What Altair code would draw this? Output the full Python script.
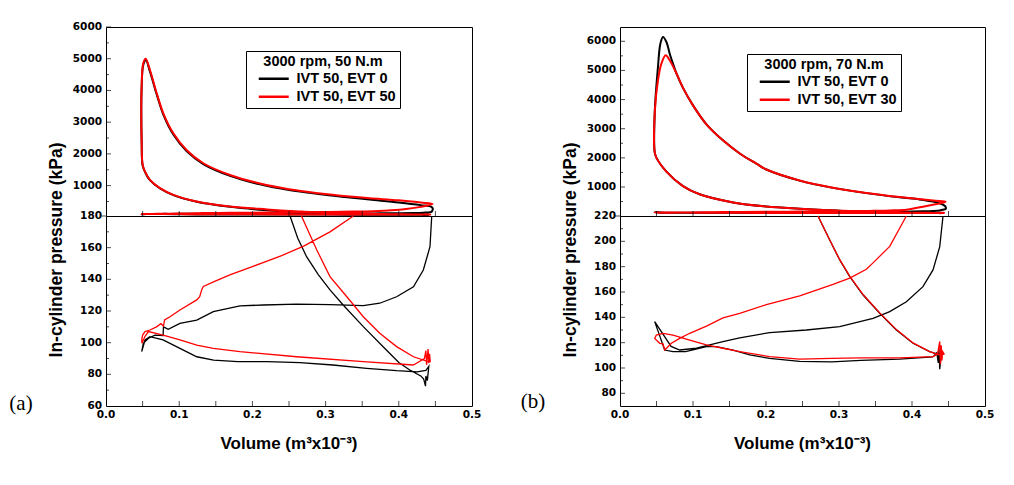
import altair as alt
import pandas as pd

# ---------------- text ----------------
A_SERIES = ["IVT 50, EVT 0", "IVT 50, EVT 50"]
B_SERIES = ["IVT 50, EVT 0", "IVT 50, EVT 30"]
SERIES_COLORS = ["#000000", "#ff0000"]
A_LEGEND_TITLE = "3000 rpm, 50 N.m"
B_LEGEND_TITLE = "3000 rpm, 70 N.m"
X_TITLE = "Volume (m³x10⁻³)"
Y_TITLE = "In-cylinder pressure (kPa)"

# ---------------- axes ----------------
X_LABELS = [0.0, 0.1, 0.2, 0.3, 0.4, 0.5]
X_TICKS = [0.05, 0.1, 0.15, 0.2, 0.25, 0.3, 0.35, 0.4, 0.45]

A_UP_DOMAIN = [42, 6000]
A_LO_DOMAIN = [60, 180]
A_UP_MAJOR = [1000, 2000, 3000, 4000, 5000, 6000]
A_UP_MINOR = [500, 1500, 2500, 3500, 4500, 5500]
A_LO_LABELS = [60, 80, 100, 120, 140, 160, 180]
A_LO_MAJOR = [80, 100, 120, 140, 160]
A_LO_MINOR = [70, 90, 110, 130, 150, 170]

B_UP_DOMAIN = [5, 6490]
B_LO_DOMAIN = [70, 220]
B_UP_MAJOR = [1000, 2000, 3000, 4000, 5000, 6000]
B_UP_MINOR = [500, 1500, 2500, 3500, 4500, 5500]
B_LO_LABELS = [80, 100, 120, 140, 160, 180, 200, 220]
B_LO_MAJOR = [80, 100, 120, 140, 160, 180, 200]
B_LO_MINOR = [90, 110, 130, 150, 170, 190, 210]

# ---------------- data (Volume m3x10^-3, pressure kPa), in cycle order ----------------
A_BLACK = [
    (0.425, 81.6), (0.437, 82.5), (0.441, 85.0), (0.439, 76.0), (0.437, 79.0), (0.4365, 72.5),
    (0.434, 77.0), (0.430, 79.0), (0.415, 82.7), (0.400, 87.5), (0.383, 95.4), (0.3515, 110.1),
    (0.324, 123.8), (0.306, 133.3), (0.290, 143.0), (0.274, 154.3), (0.262, 166.0), (0.2514, 180.0),
    (0.230, 206), (0.210, 240), (0.1694, 330), (0.1239, 490), (0.092, 700), (0.0738, 910),
    (0.060, 1170), (0.0533, 1430), (0.0500, 1640), (0.0487, 2400), (0.0482, 3300), (0.0486, 4000),
    (0.0509, 4800), (0.0545, 4950), (0.0600, 4600), (0.0693, 3870), (0.0783, 3240), (0.092, 2610),
    (0.110, 2090), (0.1329, 1680), (0.1694, 1310), (0.2104, 1040), (0.250, 860), (0.290, 735),
    (0.333, 625), (0.360, 560), (0.400, 470), (0.430, 385), (0.4445, 330), (0.4465, 270),
    (0.4460, 225), (0.4455, 200), (0.4450, 180.0), (0.4426, 160.6), (0.4335, 145.9), (0.420, 135.3),
    (0.397, 129.0), (0.374, 124.9), (0.3515, 123.4), (0.306, 124.0), (0.2605, 124.4), (0.215, 123.8),
    (0.183, 123.3), (0.1466, 119.6), (0.124, 114.3), (0.101, 112.2), (0.085, 108.5), (0.0785, 110.0),
    (0.078, 104.5), (0.067, 104.8), (0.058, 102.8), (0.051, 99.6), (0.0488, 94.3),
    (0.0533, 101.7), (0.060, 103.8), (0.078, 101.7), (0.101, 96.4), (0.124, 91.1), (0.147, 89.0),
    (0.180, 88.0), (0.220, 88.0), (0.265, 87.4), (0.310, 85.9), (0.356, 83.8), (0.397, 82.3), (0.425, 81.6),
]
A_RED = [
    (0.420, 85.9), (0.435, 90), (0.437, 95), (0.438, 86), (0.440, 96), (0.441, 87), (0.442, 93),
    (0.443, 88), (0.440, 88), (0.420, 91.1), (0.397, 97.5), (0.374, 105.9), (0.3515, 116.4),
    (0.329, 129.0), (0.306, 141.7), (0.288, 158.5), (0.267, 180.0), (0.245, 210), (0.220, 250),
    (0.1694, 345), (0.1239, 500), (0.092, 710), (0.0738, 920), (0.060, 1180), (0.0533, 1440),
    (0.0500, 1660), (0.0487, 2420), (0.0482, 3300), (0.0486, 4050), (0.0509, 4860), (0.0542, 5000),
    (0.0600, 4645), (0.0693, 3910), (0.0783, 3280), (0.092, 2650), (0.110, 2123), (0.1329, 1705),
    (0.1694, 1335), (0.2104, 1065), (0.250, 885), (0.290, 760), (0.333, 655), (0.3607, 600),
    (0.400, 535), (0.430, 465), (0.446, 420), (0.430, 330), (0.410, 262), (0.390, 222), (0.365, 195),
    (0.338, 180.0), (0.306, 170), (0.270, 161), (0.240, 155), (0.200, 148), (0.170, 143), (0.150, 139),
    (0.133, 135.5), (0.1307, 133.3), (0.128, 129), (0.124, 127), (0.101, 120.6), (0.0874, 116.4),
    (0.080, 114.3), (0.0785, 110.5), (0.075, 112), (0.069, 110), (0.060, 108), (0.0533, 107),
    (0.050, 104.8), (0.0488, 101.7), (0.0492, 99.6), (0.0533, 104), (0.058, 107), (0.078, 104.8),
    (0.101, 101.7), (0.124, 98.5), (0.1466, 96.4), (0.183, 94.3), (0.2605, 91.1), (0.3515, 88.0), (0.420, 85.9),
]
B_BLACK = [
    (0.4288, 108.8), (0.434, 112), (0.436, 104), (0.437, 115), (0.438, 99), (0.440, 110), (0.438, 110.3),
    (0.4242, 112.9), (0.4014, 119.5), (0.3786, 130.0), (0.3558, 143.2), (0.333, 157.6), (0.3147, 172.1),
    (0.301, 185.3), (0.2873, 201), (0.2712, 220.0), (0.246, 255), (0.2005, 330), (0.155, 470),
    (0.109, 750), (0.0863, 1030), (0.0636, 1530), (0.050, 2000), (0.0475, 2200), (0.0477, 3630),
    (0.052, 5118), (0.0553, 5918), (0.0589, 6148), (0.0636, 5976), (0.0681, 5575), (0.0726, 5232),
    (0.0773, 4900), (0.0863, 4400), (0.100, 3800), (0.1184, 3150), (0.141, 2600), (0.164, 2150),
    (0.1868, 1800), (0.2005, 1600), (0.246, 1220), (0.2918, 970), (0.3375, 790), (0.383, 645),
    (0.410, 575), (0.4288, 500), (0.440, 420), (0.4455, 340), (0.4465, 280), (0.446, 245), (0.4425, 220.0),
    (0.438, 195.8), (0.4288, 177.4), (0.415, 164.2), (0.3923, 152.3), (0.3695, 144.5), (0.3466, 139.2),
    (0.301, 132.6), (0.2553, 130.0), (0.205, 128.0), (0.164, 123.8), (0.141, 120.8), (0.1229, 118.2),
    (0.1046, 115.6), (0.0818, 114.2), (0.070, 117.0), (0.0475, 136.6), (0.0612, 114.2), (0.0726, 112.9),
    (0.090, 113.0), (0.1184, 116.8), (0.132, 116.8), (0.155, 114.2), (0.1777, 110.3), (0.205, 107.6),
    (0.246, 105.3), (0.290, 104.8), (0.330, 106.0), (0.383, 107.0), (0.4288, 108.8),
]
B_RED = [
    (0.4288, 109.0), (0.435, 111), (0.438, 121), (0.439, 103), (0.440, 118), (0.441, 106), (0.442, 113),
    (0.444, 111), (0.440, 110), (0.4242, 113.0), (0.4014, 119.8), (0.3786, 130.3), (0.3558, 143.5),
    (0.333, 158.0), (0.3147, 172.5), (0.301, 185.5), (0.2873, 201), (0.2712, 220.0), (0.246, 255),
    (0.2005, 330), (0.155, 470), (0.109, 750), (0.0863, 1030), (0.0636, 1530), (0.050, 2000),
    (0.0475, 2200), (0.0478, 3630), (0.052, 4662), (0.0567, 5232), (0.0626, 5520), (0.0681, 5348),
    (0.0773, 4900), (0.0863, 4400), (0.100, 3800), (0.1184, 3150), (0.141, 2600), (0.164, 2150),
    (0.1868, 1800), (0.2005, 1600), (0.246, 1225), (0.2918, 975), (0.3375, 795), (0.383, 655),
    (0.4288, 535), (0.446, 496), (0.430, 400), (0.415, 320), (0.400, 255), (0.3923, 220.0),
    (0.3695, 196), (0.3466, 183), (0.3375, 178), (0.3147, 171), (0.2918, 166), (0.2462, 157),
    (0.2005, 150), (0.164, 143.2), (0.141, 139.5), (0.1184, 133), (0.0955, 127.4), (0.0818, 123.4),
    (0.0704, 119.5), (0.0612, 114.2), (0.0589, 119), (0.0544, 119.5), (0.0475, 123.4), (0.0498, 126),
    (0.0589, 127.4), (0.0726, 126), (0.0955, 122.1), (0.1184, 118.2), (0.141, 115.6), (0.164, 112.9),
    (0.205, 109), (0.246, 107), (0.290, 107.6), (0.330, 108), (0.383, 108), (0.4288, 109.0),
]

# ---------------- styling ----------------
TICK_FONT = "DejaVu Sans"
TITLE_FONT = "Liberation Sans"
UP_H, LO_H = 189, 379
W, H = 879, 379
LEGEND_LINE = "M-3,0H3"


def make_df(black, red, names, lim):
    rows = []
    for name, pts in ((names[0], black), (names[1], red)):
        for i, (v, p) in enumerate(pts):
            rows.append({"series": name, "i": i, "V": v, "P": p,
                         "PL": p if p <= lim + 1e-9 else None})
    return pd.DataFrame(rows)


def panel(df, names, xr, up_dom, lo_dom, up_major, up_minor, lo_labels, lo_major, lo_minor,
          legend_title, lx, ly):
    xs = alt.Scale(domain=[0, 0.5], range=xr, nice=False, zero=False)
    ysu = alt.Scale(domain=up_dom, range=[UP_H, 0], nice=False, zero=False)
    ysl = alt.Scale(domain=lo_dom, range=[LO_H, UP_H], nice=False, zero=False)
    cs = alt.Scale(domain=names, range=SERIES_COLORS)
    x0 = alt.XDatum(0.0, scale=xs, axis=None)

    def frame(dom, ys):
        return alt.Chart(pd.DataFrame({"x0": [0.0], "x1": [0.5], "y0": [dom[0]], "y1": [dom[1]]})).mark_rect(
            fillOpacity=0, stroke="black", strokeWidth=1,
            xOffset=0.5, x2Offset=0.5, yOffset=0.5, y2Offset=0.5
        ).encode(x=alt.X("x0:Q", scale=xs, axis=None), x2="x1",
                 y=alt.Y("y0:Q", scale=ys, axis=None), y2="y1")

    def yticks(vals, ys, size):
        return alt.Chart(pd.DataFrame({"v": vals})).mark_tick(
            orient="horizontal", size=size, thickness=1, color="black", xOffset=size / 2
        ).encode(x=x0, y=alt.Y("v:Q", scale=ys, axis=None))

    def xticks(yval, ys):
        return alt.Chart(pd.DataFrame({"v": X_TICKS})).mark_tick(
            orient="vertical", size=5, thickness=1, color="black", yOffset=-2.5
        ).encode(x=alt.X("v:Q", scale=xs, axis=None), y=alt.YDatum(yval, scale=ys, axis=None))

    def ylabels(vals, ys):
        return alt.Chart(pd.DataFrame({"v": vals})).mark_text(
            align="right", baseline="middle", xOffset=-4, font=TICK_FONT, fontSize=10.5,
            fontWeight="bold", color="black"
        ).encode(x=x0, y=alt.Y("v:Q", scale=ys, axis=None), text=alt.Text("v:Q", format="d"))

    xlabels = alt.Chart(pd.DataFrame({"v": X_LABELS})).mark_text(
        align="center", baseline="top", yOffset=4, font=TICK_FONT, fontSize=10.5,
        fontWeight="bold", color="black"
    ).encode(x=alt.X("v:Q", scale=xs, axis=None), y=alt.YDatum(lo_dom[0], scale=ysl, axis=None),
             text=alt.Text("v:Q", format=".1f"))

    xtitle = alt.Chart(pd.DataFrame({"t": [X_TITLE]})).mark_text(
        align="center", baseline="alphabetic", font=TITLE_FONT, fontSize=17, fontWeight="bold",
        color="black"
    ).encode(x=alt.XDatum(0.25, scale=xs, axis=None), y=alt.value(422), text="t:N")

    ytitle = alt.Chart(pd.DataFrame({"t": [Y_TITLE]})).mark_text(
        align="center", baseline="middle", angle=270, xOffset=-49, font=TITLE_FONT, fontSize=17.5,
        fontWeight="bold", color="black"
    ).encode(x=x0, y=alt.value(223), text="t:N")

    up_lines = alt.Chart(df).mark_line(strokeWidth=2, interpolate="catmull-rom").encode(
        x=alt.X("V:Q", scale=xs, axis=None),
        y=alt.Y("P:Q", scale=ysu, axis=None),
        color=alt.Color("series:N", scale=cs, legend=alt.Legend(
            title=legend_title, orient="none", legendX=lx, legendY=ly, direction="vertical",
            strokeColor="black", fillColor="white", padding=4, cornerRadius=0,
            symbolType=LEGEND_LINE, symbolSize=100, symbolStrokeWidth=2.5, symbolOffset=16.5,
            labelOffset=15.5, labelFont=TITLE_FONT, labelFontSize=14.5, labelFontWeight="bold",
            labelColor="black", titleFont=TITLE_FONT, titleFontSize=14.5, titleFontWeight="bold",
            titleColor="black", titleAnchor="middle", titlePadding=2, rowPadding=3)),
        order=alt.Order("i:Q"),
    )

    lo_lines = alt.Chart(df).mark_line(strokeWidth=1.3).encode(
        x=alt.X("V:Q", scale=xs, axis=None),
        y=alt.Y("PL:Q", scale=ysl, axis=None),
        color=alt.Color("series:N", scale=cs, legend=None),
        order=alt.Order("i:Q"),
    )

    split_ext = alt.Chart(pd.DataFrame({"v": [lo_dom[1]]})).mark_tick(
        orient="horizontal", size=6, thickness=1, color="black", xOffset=-3
    ).encode(x=x0, y=alt.Y("v:Q", scale=ysl, axis=None))

    upper = alt.layer(frame(up_dom, ysu), up_lines, yticks(up_major, ysu, 5),
                      yticks(up_minor, ysu, 3), xticks(up_dom[0], ysu), ylabels(up_major, ysu))
    lower = alt.layer(frame(lo_dom, ysl), lo_lines, yticks(lo_major, ysl, 5),
                      yticks(lo_minor, ysl, 3), xticks(lo_dom[0], ysl), split_ext,
                      ylabels(lo_labels, ysl), xlabels, xtitle, ytitle)
    return alt.layer(upper, lower).resolve_scale(y="independent")


dfA = make_df(A_BLACK, A_RED, A_SERIES, A_LO_DOMAIN[1])
dfB = make_df(B_BLACK, B_RED, B_SERIES, B_LO_DOMAIN[1])

panelA = panel(dfA, A_SERIES, [0, 366], A_UP_DOMAIN, A_LO_DOMAIN, A_UP_MAJOR, A_UP_MINOR,
               A_LO_LABELS, A_LO_MAJOR, A_LO_MINOR, A_LEGEND_TITLE, 140, 24)
panelB = panel(dfB, B_SERIES, [514, 879], B_UP_DOMAIN, B_LO_DOMAIN, B_UP_MAJOR, B_UP_MINOR,
               B_LO_LABELS, B_LO_MAJOR, B_LO_MINOR, B_LEGEND_TITLE, 641, 27)


def tag(text, px, py):
    return alt.Chart(pd.DataFrame({"t": [text]})).mark_text(
        font="Liberation Serif", fontSize=21, color="black", align="center", baseline="middle"
    ).encode(x=alt.value(px), y=alt.value(py), text="t:N")


chart = alt.layer(panelA, panelB, tag("(a)", -85, 377), tag("(b)", 427, 375)).resolve_scale(
    x="independent", y="independent", color="independent"
).properties(
    width=W, height=H,
    autosize=alt.AutoSizeParams(type="none"),
    padding={"left": 106, "top": 27, "right": 29, "bottom": 79},
).configure_view(stroke="transparent")

chart.save("out.html", embed_options={"renderer": "svg", "actions": False})
